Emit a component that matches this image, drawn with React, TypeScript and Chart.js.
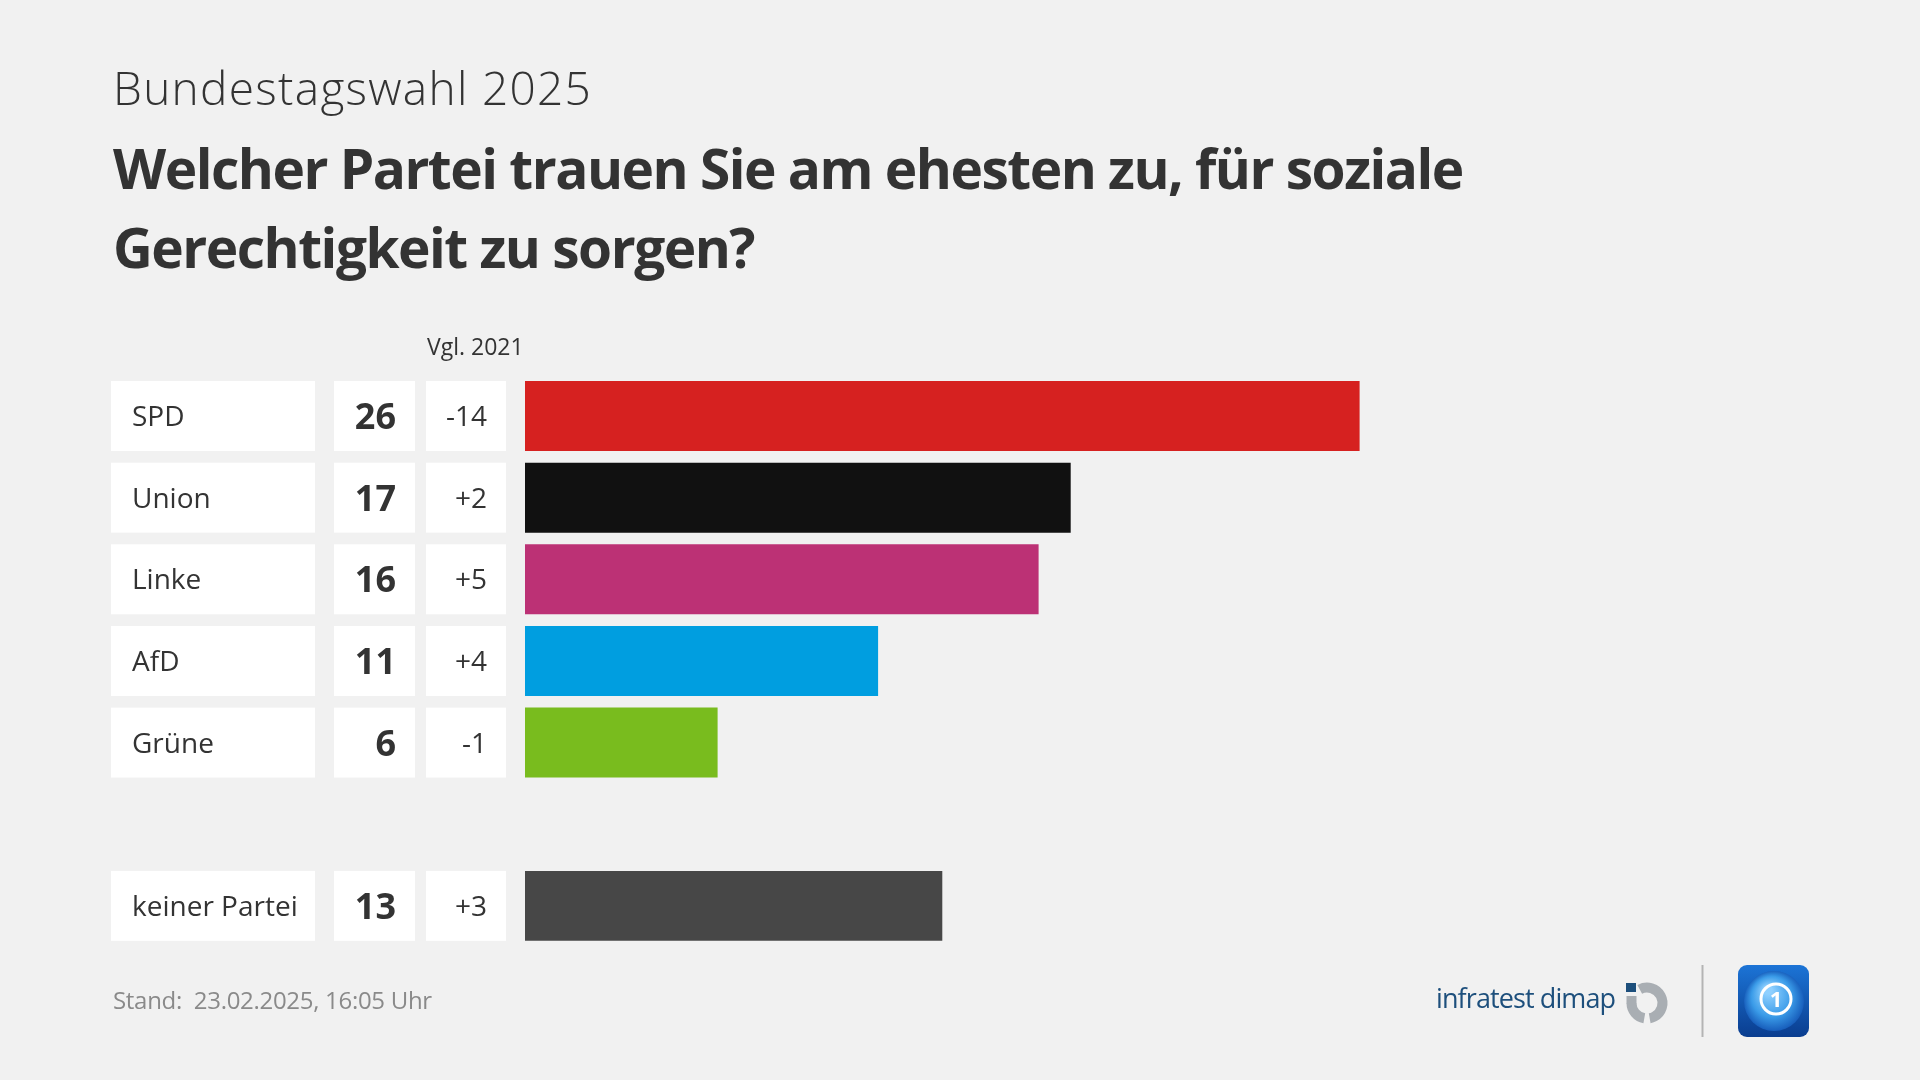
import React, { useEffect, useRef } from "react";
import { Chart, registerables } from "chart.js";

Chart.register(...registerables);

const categories = ["SPD", "Union", "Linke", "AfD", "Grüne", "", "keiner Partei"];
const shares: (number | null)[] = [26, 17, 16, 11, 6, null, 13];
const changes = ["-14", "+2", "+5", "+4", "-1", "", "+3"];
const barColors = ["#d62120", "#111111", "#bc3175", "#009ee0", "#79bc1e", "rgba(0,0,0,0)", "#474747"];

const kicker = "Bundestagswahl 2025";
const titleLines = ["Welcher Partei trauen Sie am ehesten zu, für soziale", "Gerechtigkeit zu sorgen?"];
const changeHeader = "Vgl. 2021";
const footerText = "Stand:  23.02.2025, 16:05 Uhr";
const sourceText = "infratest dimap";

const FONT = '"Open Sans", "Noto Sans", sans-serif';
const TEXT = "#333333";
const BAR_PCT = 0.857;

const decorPlugin = {
  id: "decor",
  beforeDraw(chart: any) {
    const ctx = chart.ctx;
    ctx.save();
    ctx.fillStyle = "#f1f1f1";
    ctx.fillRect(0, 0, chart.width, chart.height);
    ctx.restore();
  },
  beforeDatasetsDraw(chart: any) {
    const ctx = chart.ctx;
    const y = chart.scales.y;
    const step = y.getPixelForValue(1) - y.getPixelForValue(0);
    const h = step * BAR_PCT;
    ctx.save();
    categories.forEach((cat, i) => {
      if (!cat) return;
      const cy = y.getPixelForValue(i);
      const top = cy - h / 2;
      ctx.fillStyle = "#ffffff";
      ctx.fillRect(111, top, 204, h);
      ctx.fillRect(334, top, 81, h);
      ctx.fillRect(426, top, 80, h);
      ctx.fillStyle = TEXT;
      ctx.textBaseline = "alphabetic";
      ctx.textAlign = "left";
      ctx.font = `400 28px ${FONT}`;
      ctx.fillText(cat, 132, cy + 10);
      ctx.textAlign = "right";
      ctx.font = `700 36px ${FONT}`;
      ctx.fillText(String(shares[i]), 396, cy + 13);
      ctx.font = `400 28px ${FONT}`;
      ctx.fillText(changes[i], 487, cy + 10);
    });
    ctx.textAlign = "left";
    ctx.font = `400 23px ${FONT}`;
    ctx.fillText(changeHeader, 427, 355);
    ctx.restore();
  },
  afterDraw(chart: any) {
    const ctx = chart.ctx;
    ctx.save();
    ctx.textBaseline = "alphabetic";
    ctx.textAlign = "left";
    ctx.fillStyle = TEXT;
    ctx.font = `300 46px ${FONT}`;
    (ctx as any).letterSpacing = "1.3px";
    ctx.fillText(kicker, 113, 105);
    ctx.font = `700 55px ${FONT}`;
    (ctx as any).letterSpacing = "-1.5px";
    ctx.fillText(titleLines[0], 113, 189);
    ctx.fillText(titleLines[1], 113, 268);
    (ctx as any).letterSpacing = "0px";

    ctx.fillStyle = "#8a8a8a";
    ctx.font = `400 24px ${FONT}`;
    (ctx as any).letterSpacing = "-0.3px";
    ctx.fillText(footerText, 113, 1009);

    // infratest dimap wordmark
    ctx.fillStyle = "#1d4f7c";
    ctx.font = `500 27px ${FONT}`;
    (ctx as any).letterSpacing = "-0.9px";
    ctx.fillText(sourceText, 1436, 1008);
    (ctx as any).letterSpacing = "0px";
    // iD logo
    const cx = 1647, cyy = 1003, rm = 15.5;
    ctx.fillStyle = "#1d4f7c";
    ctx.fillRect(1626, 983, 10, 9);
    ctx.strokeStyle = "#a9aeb3";
    ctx.fillStyle = "#a9aeb3";
    ctx.lineWidth = 10;
    ctx.lineCap = "butt";
    ctx.beginPath();
    ctx.arc(cx, cyy, rm, (-118 * Math.PI) / 180, (80 * Math.PI) / 180);
    ctx.stroke();
    ctx.beginPath();
    ctx.arc(cx, cyy, rm, (100 * Math.PI) / 180, Math.PI);
    ctx.stroke();
    ctx.fillRect(cx - rm - 5, 996, 10, cyy - 996 + 0.5);

    // divider
    ctx.strokeStyle = "#b4b4b4";
    ctx.lineWidth = 2;
    ctx.beginPath();
    ctx.moveTo(1702.5, 965);
    ctx.lineTo(1702.5, 1037);
    ctx.stroke();

    // tagesschau logo
    const lx = 1738, ly = 965, lw = 71, lh = 72, r = 9;
    const g = ctx.createLinearGradient(0, ly, 0, ly + lh);
    g.addColorStop(0, "#1c74d6");
    g.addColorStop(1, "#0a3d8f");
    ctx.fillStyle = g;
    ctx.beginPath();
    ctx.moveTo(lx + r, ly);
    ctx.arcTo(lx + lw, ly, lx + lw, ly + lh, r);
    ctx.arcTo(lx + lw, ly + lh, lx, ly + lh, r);
    ctx.arcTo(lx, ly + lh, lx, ly, r);
    ctx.arcTo(lx, ly, lx + lw, ly, r);
    ctx.closePath();
    ctx.fill();
    const rg = ctx.createRadialGradient(1768, 990, 4, 1774, 1001, 31);
    rg.addColorStop(0, "#8fd0ff");
    rg.addColorStop(0.6, "#3a9be8");
    rg.addColorStop(1, "#1559b8");
    ctx.fillStyle = rg;
    ctx.beginPath();
    ctx.arc(1774, 1001, 30, 0, Math.PI * 2);
    ctx.fill();
    ctx.strokeStyle = "#ffffff";
    ctx.lineWidth = 3;
    ctx.beginPath();
    ctx.arc(1776, 999, 15, 0, Math.PI * 2);
    ctx.stroke();
    ctx.fillStyle = "#ffffff";
    ctx.font = `700 22px ${FONT}`;
    ctx.textAlign = "center";
    ctx.fillText("1", 1776, 1007);
    ctx.restore();
  },
};

export default function App() {
  const ref = useRef<HTMLCanvasElement | null>(null);
  useEffect(() => {
    document.body.style.margin = "0";
    if (!ref.current) return;
    const chart = new Chart(ref.current, {
      type: "bar",
      data: {
        labels: categories,
        datasets: [
          {
            data: shares as any,
            backgroundColor: barColors,
            borderWidth: 0,
            barPercentage: BAR_PCT,
            categoryPercentage: 1,
          },
        ],
      },
      options: {
        indexAxis: "y",
        animation: false,
        responsive: false,
        devicePixelRatio: 1,
        events: [],
        layout: { padding: { left: 525, right: 111, top: 375.2, bottom: 133.3 } },
        plugins: { legend: { display: false }, tooltip: { enabled: false }, title: { display: false } },
        scales: {
          x: { display: false, min: 0, max: 40 },
          y: { display: false },
        },
      },
      plugins: [decorPlugin],
    });
    return () => chart.destroy();
  }, []);
  return (
    <div style={{ position: "absolute", left: 0, top: 0, width: 1920, height: 1080 }}>
      <canvas ref={ref} width={1920} height={1080} style={{ width: 1920, height: 1080, display: "block" }} />
    </div>
  );
}
